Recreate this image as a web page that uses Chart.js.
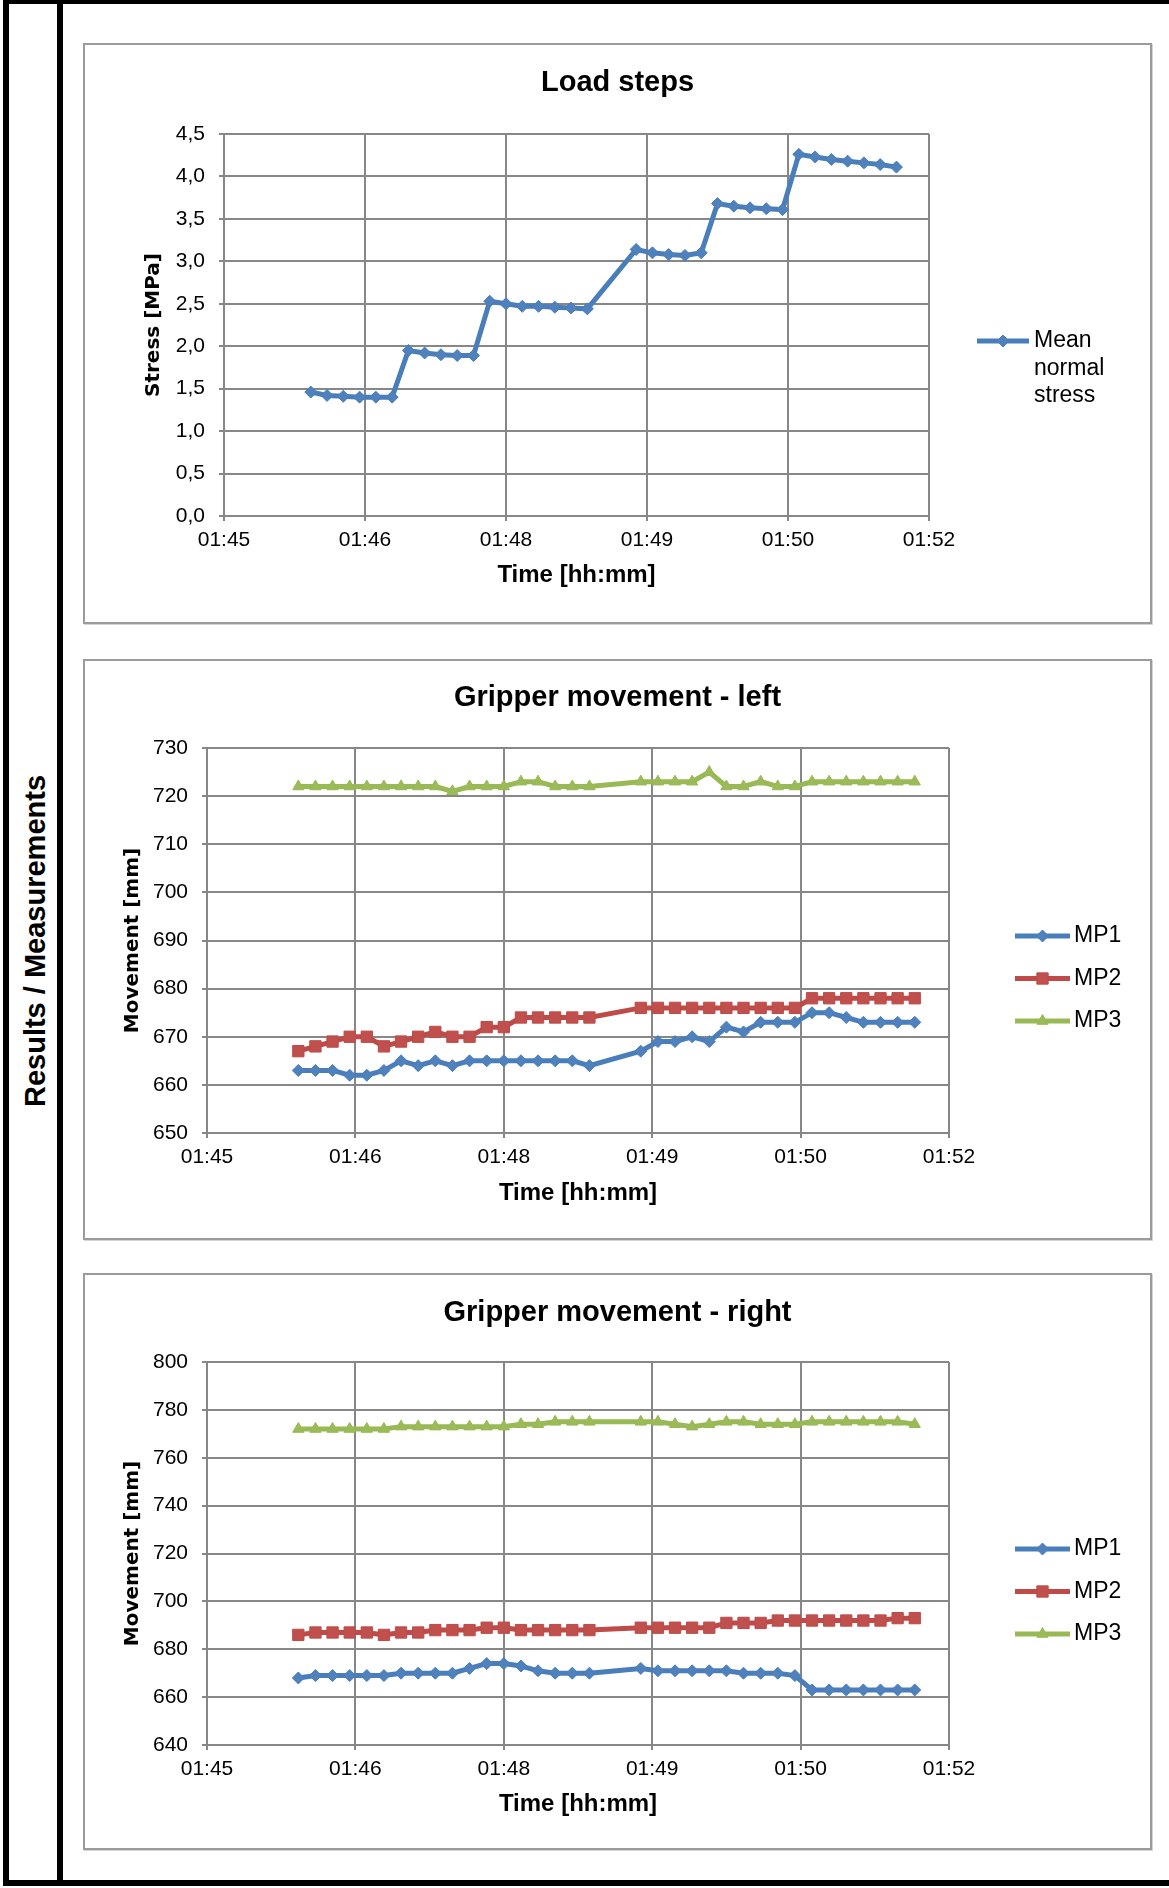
<!DOCTYPE html>
<html>
<head>
<meta charset="utf-8">
<title>Results / Measurements</title>
<script src="https://cdn.jsdelivr.net/npm/chart.js@4.4.1/dist/chart.umd.min.js"></script>
<style>
  html, body { margin: 0; padding: 0; background: #fff; }
  body { width: 1169px; height: 1888px; position: relative; overflow: hidden; font-family: 'Liberation Sans', Arial, sans-serif; }
  .rule { position: absolute; background: #000; }
  .side-label { position: absolute; left: 35px; top: 941px; transform: translate(-50%, -50%) rotate(-90deg); font: bold 29px 'Liberation Sans', Arial, sans-serif; white-space: nowrap; color: #000; }
  .chart-box { position: absolute; left: 83px; width: 1069px; box-sizing: border-box; border: 2px solid #9b9b9b; box-shadow: 1px 1px 0 #d4d4d4; background: #fff; }
  .chart-box canvas { display: block; }
</style>
</head>
<body>
<div class="rule" style="left:3px;top:0;width:1166px;height:4px"></div>
<div class="rule" style="left:3px;top:0;width:6px;height:1886px"></div>
<div class="rule" style="left:57px;top:0;width:6px;height:1886px"></div>
<div class="rule" style="left:3px;top:1880px;width:1166px;height:6px"></div>
<div class="side-label">Results / Measurements</div>

<div class="chart-box" style="top:43px;height:581px"><canvas id="chartLoad" width="1065" height="577"></canvas></div>
<div class="chart-box" style="top:659px;height:581px"><canvas id="chartLeft" width="1065" height="577"></canvas></div>
<div class="chart-box" style="top:1273px;height:577px"><canvas id="chartRight" width="1065" height="573"></canvas></div>

<script>
// sample times of the measurement log
const sampleTimes = [
  '01:45:48', '01:45:57', '01:46:06', '01:46:15', '01:46:24', '01:46:33', '01:46:42', '01:46:51', '01:47:00',
  '01:47:09', '01:47:18', '01:47:27', '01:47:36', '01:47:45', '01:47:54', '01:48:03', '01:48:12', '01:48:21',
  '01:48:48', '01:48:57', '01:49:06', '01:49:15', '01:49:24', '01:49:33', '01:49:42', '01:49:51', '01:50:00',
  '01:50:09', '01:50:18', '01:50:27', '01:50:36', '01:50:45', '01:50:54', '01:51:03', '01:51:12'
];
const axisStart = '01:45:00';
const axisEnd = '01:51:30';
const timeTicks = ['01:45', '01:46', '01:48', '01:49', '01:50', '01:52'];

// load steps [MPa]
const meanNormalStress = [
  1.46, 1.42, 1.41, 1.40, 1.40, 1.40, 1.95, 1.92, 1.90, 1.89, 1.89, 2.53, 2.50, 2.47, 2.47, 2.46, 2.45, 2.44,
  3.14, 3.10, 3.08, 3.07, 3.10, 3.68, 3.65, 3.63, 3.62, 3.61, 4.26, 4.23, 4.20, 4.18, 4.16, 4.14, 4.11
];

// gripper left [mm]
const leftMP1 = [
  663, 663, 663, 662, 662, 663, 665, 664, 665, 664, 665, 665, 665, 665, 665, 665, 665, 664,
  667, 669, 669, 670, 669, 672, 671, 673, 673, 673, 675, 675, 674, 673, 673, 673, 673
];
const leftMP2 = [
  667, 668, 669, 670, 670, 668, 669, 670, 671, 670, 670, 672, 672, 674, 674, 674, 674, 674,
  676, 676, 676, 676, 676, 676, 676, 676, 676, 676, 678, 678, 678, 678, 678, 678, 678
];
const leftMP3 = [
  722, 722, 722, 722, 722, 722, 722, 722, 722, 721, 722, 722, 722, 723, 723, 722, 722, 722,
  723, 723, 723, 723, 725, 722, 722, 723, 722, 722, 723, 723, 723, 723, 723, 723, 723
];

// gripper right [mm]
const rightMP1 = [
  668, 669, 669, 669, 669, 669, 670, 670, 670, 670, 672, 674, 674, 673, 671, 670, 670, 670,
  672, 671, 671, 671, 671, 671, 670, 670, 670, 669, 663, 663, 663, 663, 663, 663, 663
];
const rightMP2 = [
  686, 687, 687, 687, 687, 686, 687, 687, 688, 688, 688, 689, 689, 688, 688, 688, 688, 688,
  689, 689, 689, 689, 689, 691, 691, 691, 692, 692, 692, 692, 692, 692, 692, 693, 693
];
const rightMP3 = [
  772, 772, 772, 772, 772, 772, 773, 773, 773, 773, 773, 773, 773, 774, 774, 775, 775, 775,
  775, 775, 774, 773, 774, 775, 775, 774, 774, 774, 775, 775, 775, 775, 775, 775, 774
];

Chart.defaults.font.family = "'Liberation Sans', Arial, sans-serif";
Chart.defaults.color = '#000';

const toSeconds = (hms) => {
  const [h, m, s] = hms.split(':').map(Number);
  return h * 3600 + m * 60 + s;
};
const tStart = toSeconds(axisStart);
const tEnd = toSeconds(axisEnd);
const xStep = (tEnd - tStart) / (timeTicks.length - 1);

const points = (values) => values.map((v, i) => ({ x: toSeconds(sampleTimes[i]), y: v }));

// excel-like series looks
const STYLE = {
  blue:  { line: '#4A7EBB', fill: '#4F81BD', pointStyle: 'rectRot',  radius: 6 },
  red:   { line: '#BE4B48', fill: '#C0504D', pointStyle: 'rect',     radius: 8 },
  green: { line: '#98B954', fill: '#9BBB59', pointStyle: 'triangle', radius: 6.5 }
};

const GRID = '#878787';

function series(label, values, look) {
  const st = STYLE[look];
  return {
    label,
    data: points(values),
    borderColor: st.line,
    backgroundColor: st.fill,
    borderWidth: 5,
    pointStyle: st.pointStyle,
    pointRadius: st.radius,
    pointBackgroundColor: st.fill,
    pointBorderColor: st.line,
    pointBorderWidth: 1,
    tension: 0,
    clip: false,
    yAxisID: 'y'
  };
}

// legend on the right side, line sample + marker + wrapped label
const sideLegend = {
  id: 'sideLegend',
  afterDraw(chart, args, opts) {
    const ctx = chart.ctx;
    ctx.save();
    ctx.font = opts.font;
    ctx.textBaseline = 'middle';
    let y = opts.y;
    chart.data.datasets.forEach((ds) => {
      ctx.strokeStyle = ds.borderColor;
      ctx.lineWidth = ds.borderWidth;
      ctx.beginPath();
      ctx.moveTo(opts.x, y);
      ctx.lineTo(opts.x + opts.sample, y);
      ctx.stroke();

      ctx.fillStyle = ds.pointBackgroundColor;
      ctx.strokeStyle = ds.pointBorderColor;
      ctx.lineWidth = ds.pointBorderWidth;
      Chart.helpers.drawPoint(ctx, {
        pointStyle: ds.pointStyle, radius: ds.pointRadius, rotation: 0, borderWidth: ds.pointBorderWidth
      }, opts.x + opts.sample / 2, y);

      // word wrap
      const lines = [];
      let cur = '';
      ds.label.split(' ').forEach((w) => {
        const test = cur ? cur + ' ' + w : w;
        if (cur && ctx.measureText(test).width > opts.maxWidth) {
          lines.push(cur);
          cur = w;
        } else {
          cur = test;
        }
      });
      lines.push(cur);

      ctx.fillStyle = '#000';
      lines.forEach((ln, i) => ctx.fillText(ln, opts.textX, y + i * opts.lineHeight));
      y += (lines.length - 1) * opts.lineHeight + opts.itemGap;
    });
    ctx.restore();
  }
};

function makeChart(id, cfg) {
  const canvas = document.getElementById(id);
  const W = canvas.width;
  const H = canvas.height;
  const p = cfg.plot;
  const titleSize = 29;
  const titleLH = titleSize * 1.2;
  const titlePadTop = cfg.titleY - titleLH / 2;
  const xTitleSize = 24;

  return new Chart(canvas, {
    type: 'line',
    data: { datasets: cfg.datasets },
    options: {
      responsive: false,
      animation: false,
      devicePixelRatio: 1,
      events: [],
      layout: { padding: 0 },
      plugins: {
        legend: { display: false },
        tooltip: { enabled: false },
        title: {
          display: true,
          text: cfg.title,
          color: '#000',
          font: { size: titleSize, weight: 'bold' },
          padding: { top: titlePadTop, bottom: p.top - titlePadTop - titleLH }
        },
        sideLegend: cfg.legend
      },
      scales: {
        x: {
          type: 'linear',
          min: tStart,
          max: tEnd,
          afterFit: (s) => { s.height = H - p.bottom; },
          ticks: {
            stepSize: xStep,
            autoSkip: false,
            maxRotation: 0,
            padding: 7,
            color: '#000',
            font: { size: 21 },
            callback: (v, i) => timeTicks[i]
          },
          grid: { color: GRID, lineWidth: 2, tickLength: 5, drawTicks: true },
          border: { display: true, color: GRID, width: 2 },
          title: {
            display: true,
            text: 'Time [hh:mm]',
            color: '#000',
            font: { size: xTitleSize, weight: 'bold' },
            padding: { top: 0, bottom: (H - cfg.xTitleY) - xTitleSize * 0.6 }
          }
        },
        y: {
          min: cfg.yMin,
          max: cfg.yMax,
          afterFit: (s) => { s.width = p.left; },
          ticks: {
            stepSize: cfg.yStep,
            padding: 14,
            color: '#000',
            font: { size: 21 },
            callback: cfg.yFormat
          },
          grid: { color: GRID, lineWidth: 2, tickLength: 5, drawTicks: true },
          border: { display: true, color: GRID, width: 2 },
          title: {
            display: true,
            text: cfg.yTitle,
            color: '#000',
            font: { family: "'DejaVu Sans', Verdana, sans-serif", size: 20, weight: 'bold' },
            padding: { top: cfg.yTitleX - 12, bottom: 0 }
          }
        },
        // empty strip on the right that keeps room for the legend
        legendRoom: {
          type: 'linear',
          position: 'right',
          min: 0,
          max: 1,
          afterFit: (s) => { s.width = W - p.right; },
          ticks: { display: false },
          grid: { display: false, drawTicks: false },
          border: { display: false }
        }
      }
    },
    plugins: [sideLegend]
  });
}

const commaOne = (v) => v.toFixed(1).replace('.', ',');
const whole = (v) => String(v);

makeChart('chartLoad', {
  title: 'Load steps',
  plot: { left: 139, right: 844, top: 89, bottom: 471 },
  titleY: 38,
  xTitleY: 530.5,
  yTitleX: 69,
  yTitle: 'Stress [MPa]',
  yMin: 0, yMax: 4.5, yStep: 0.5,
  yFormat: commaOne,
  datasets: [series('Mean normal stress', meanNormalStress, 'blue')],
  legend: { x: 892, sample: 52, textX: 949, y: 296, lineHeight: 27.5, itemGap: 42.5, maxWidth: 100, font: "23px 'Liberation Sans', Arial, sans-serif" }
});

makeChart('chartLeft', {
  title: 'Gripper movement - left',
  plot: { left: 122, right: 864, top: 87, bottom: 472 },
  titleY: 37,
  xTitleY: 532,
  yTitleX: 48,
  yTitle: 'Movement [mm]',
  yMin: 650, yMax: 730, yStep: 10,
  yFormat: whole,
  datasets: [
    series('MP1', leftMP1, 'blue'),
    series('MP2', leftMP2, 'red'),
    series('MP3', leftMP3, 'green')
  ],
  legend: { x: 930, sample: 55, textX: 989, y: 275, lineHeight: 27.5, itemGap: 42.5, maxWidth: 100, font: "23px 'Liberation Sans', Arial, sans-serif" }
});

makeChart('chartRight', {
  title: 'Gripper movement - right',
  plot: { left: 122, right: 864, top: 87, bottom: 470 },
  titleY: 38,
  xTitleY: 529,
  yTitleX: 48,
  yTitle: 'Movement [mm]',
  yMin: 640, yMax: 800, yStep: 20,
  yFormat: whole,
  datasets: [
    series('MP1', rightMP1, 'blue'),
    series('MP2', rightMP2, 'red'),
    series('MP3', rightMP3, 'green')
  ],
  legend: { x: 930, sample: 55, textX: 989, y: 274, lineHeight: 27.5, itemGap: 42.5, maxWidth: 100, font: "23px 'Liberation Sans', Arial, sans-serif" }
});
</script>
</body>
</html>
